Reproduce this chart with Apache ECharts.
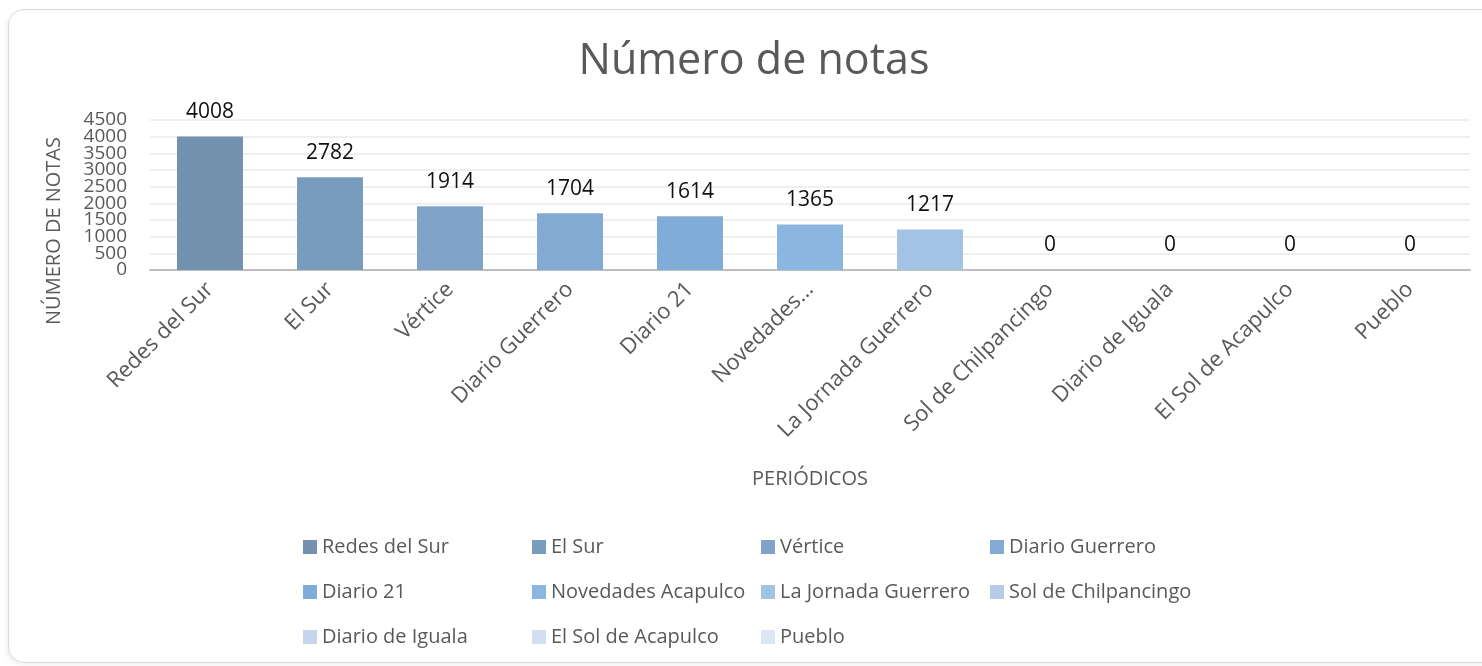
<!DOCTYPE html>
<html>
<head>
<meta charset="utf-8">
<title>Número de notas</title>
<script src="https://cdn.jsdelivr.net/npm/echarts@6/dist/echarts.min.js"></script>
<style>
    html, body { margin: 0; padding: 0; background: #fff; }
    #frame {
        position: absolute; left: 8px; top: 9px; width: 1500px; height: 654px;
        border: 1.5px solid #d9d9d9; border-radius: 16px; box-sizing: border-box;
        box-shadow: -2px 2px 4px rgba(0,0,0,0.06);
    }
    #main { position: absolute; left: 0; top: 0; width: 1482px; height: 666px; }
</style>
</head>
<body>
<div id="frame"></div>
<div id="main"></div>
<script>
// periodicos y numero de notas
var categories = ['Redes del Sur', 'El Sur', 'Vértice', 'Diario Guerrero', 'Diario 21', 'Novedades Acapulco',
    'La Jornada Guerrero', 'Sol de Chilpancingo', 'Diario de Iguala', 'El Sol de Acapulco', 'Pueblo'];
var notas = [4008, 2782, 1914, 1704, 1614, 1365, 1217, 0, 0, 0, 0];
// etiquetas del eje x (excel corta la de Novedades)
var xLabels = ['Redes del Sur', 'El Sur', 'Vértice', 'Diario Guerrero', 'Diario 21', 'Novedades...',
    'La Jornada Guerrero', 'Sol de Chilpancingo', 'Diario de Iguala', 'El Sol de Acapulco', 'Pueblo'];
var yTicks = [0, 500, 1000, 1500, 2000, 2500, 3000, 3500, 4000, 4500];
var palette = ['#7292b0', '#789cbb', '#80a4c8', '#82aad2', '#80acd8', '#8ab6e0',
    '#a3c3e4', '#b4cce8', '#c5d6ec', '#d2dff0', '#dce6f2'];

var txt = '#595959';
var fontName = '"Open Sans", "Noto Sans", sans-serif';

// una serie por periodico, apiladas para que queden centradas
var series = [];
categories.forEach(function (name, i) {
    var data = categories.map(function (c, j) {
        return j == i ? notas[i] : '-';
    });
    series.push({
        name: name,
        type: 'bar',
        stack: 'total',
        barWidth: 66,
        data: data,
        label: {
            show: true,
            position: 'top',
            distance: 14,
            color: '#111',
            fontSize: 21,
            fontFamily: fontName
        }
    });
});

// las etiquetas del eje y se enciman, echarts esconde la mitad;
// se reparten en dos ejes iguales (miles y quinientos)
function yAxisConf(par, withLines) {
    return {
        type: 'value',
        position: 'left',
        min: yTicks[0],
        max: yTicks[yTicks.length - 1],
        interval: 500,
        axisLine: { show: false },
        axisTick: { show: false },
        axisLabel: {
            color: txt,
            fontSize: 19,
            margin: 23,
            fontFamily: fontName,
            showMinLabel: true,
            showMaxLabel: true,
            formatter: function (v) {
                return (v % 1000 == 0) == par ? String(v) : '';
            }
        },
        splitLine: { show: withLines, lineStyle: { color: '#efefef', width: 2 } }
    };
}
var yMain = yAxisConf(true, true);
yMain.name = 'NÚMERO DE NOTAS';
yMain.nameLocation = 'middle';
yMain.nameRotate = 90;
yMain.nameGap = 86;
yMain.nameTextStyle = { color: txt, fontSize: 20, fontFamily: fontName, padding: [0, 72, 0, 0] };
var yOdd = yAxisConf(false, false);

var myChart = echarts.init(document.getElementById('main'));
myChart.setOption({
    animation: false,
    color: palette,
    textStyle: { fontFamily: fontName },
    title: {
        text: 'Número de notas',
        left: 754,
        top: 40,
        padding: 0,
        textAlign: 'center',
        textStyle: { color: txt, fontSize: 43, fontWeight: 'normal', fontFamily: fontName }
    },
    grid: { left: 150, right: 12, top: 120, bottom: 396 },
    xAxis: {
        type: 'category',
        data: categories,
        name: 'PERIÓDICOS',
        nameLocation: 'middle',
        nameGap: 199,
        nameTextStyle: { color: txt, fontSize: 20, fontFamily: fontName },
        axisLine: { lineStyle: { color: '#bfbfbf', width: 2 } },
        axisTick: { show: false },
        axisLabel: {
            interval: 0,
            rotate: 45,
            margin: 16,
            color: txt,
            fontSize: 22,
            fontFamily: fontName,
            formatter: function (v, i) { return xLabels[i]; }
        }
    },
    yAxis: [yMain, yOdd],
    legend: {
        data: categories,
        left: 303,
        top: 527,
        width: 950,
        padding: 0,
        itemGap: 5,
        itemWidth: 14,
        itemHeight: 14,
        icon: 'rect',
        textStyle: {
            color: txt,
            fontSize: 20,
            fontFamily: fontName,
            width: 205,
            lineHeight: 40,
            backgroundColor: 'transparent'
        }
    },
    series: series
});
</script>
</body>
</html>
